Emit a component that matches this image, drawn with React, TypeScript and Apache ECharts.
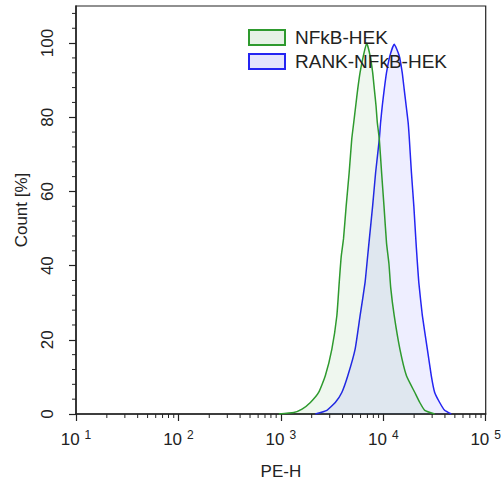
import React, { useEffect, useRef } from "react";
import * as echarts from "echarts";

// PE-H (log scale) values and Count [%] for each histogram
const nfkbX = [956, 1337, 1610, 1942, 2338, 2716, 3148, 3521, 3715, 3885, 4089, 4343, 4645, 4922, 5148, 5383, 5629, 5938, 6395, 6885, 7429, 7873, 8177, 8494, 8744, 9146, 9627, 10158, 10764, 11357, 11824, 12788, 14528, 16838, 20320, 22720, 25400, 31760];
const nfkbY = [0, 0.4, 1.3, 3.1, 5.8, 10.3, 17.5, 26.5, 35.5, 42.5, 47.2, 56.1, 65.1, 74.1, 78.6, 83.1, 87.6, 92.1, 96.6, 100, 96.6, 92.1, 87.6, 83.1, 78.6, 74.1, 65.1, 56.1, 46, 40.5, 34, 26.5, 17.5, 10.3, 5.8, 3.1, 1.0, 0];

const rankX = [2172, 2815, 3398, 3937, 4502, 5311, 5938, 6642, 6994, 7314, 7873, 8418, 9146, 9415, 9779, 10226, 10764, 11614, 12788, 14303, 15294, 15994, 16725, 17487, 17883, 18826, 19870, 20778, 21390, 22218, 24075, 26921, 29437, 31760, 35521, 39719, 46035];
const rankY = [0, 1.0, 3.1, 5.8, 10.3, 17.5, 26.5, 35.5, 41.8, 47.2, 56.1, 65.1, 74.1, 78.6, 83.1, 87.6, 92.1, 96.6, 99.7, 96.6, 92.1, 87.6, 83.1, 78.6, 75, 65.1, 56.1, 47.2, 41.8, 35.5, 26.5, 17.5, 10.3, 5.8, 3.1, 1.0, 0];

const seriesNames = ["NFkB-HEK", "RANK-NFkB-HEK"];
const xTickExponents = [1, 2, 3, 4, 5];
const yTicks = [0, 20, 40, 60, 80, 100];

const FONT = "Arial, 'Liberation Sans', sans-serif";

export default function App() {
  const ref = useRef<HTMLDivElement>(null);
  useEffect(() => {
    if (!ref.current) return;
    const chart = echarts.init(ref.current, null, { renderer: "svg" });

    const xMinor: number[][] = [];
    for (let e = 1; e < 5; e++) {
      for (let m = 2; m <= 9; m++) xMinor.push([m * Math.pow(10, e), 0]);
    }
    const yMinor: number[][] = [];
    for (let v = 4; v < 110; v += 4) {
      if (v % 20 !== 0) yMinor.push([10, v]);
    }

    const green = "#2e9a2e";
    const blue = "#2424f2";
    const greenFill = "rgba(0,128,0,0.09)";
    const blueFill = "rgba(40,40,255,0.11)";

    chart.setOption({
      animation: false,
      textStyle: { fontFamily: FONT },
      grid: {
        left: 76,
        right: 16,
        top: 6,
        bottom: 70,
        show: true,
        borderColor: "#222",
        borderWidth: 1.2,
      },
      legend: {
        orient: "vertical",
        left: 248,
        top: 28,
        padding: 0,
        itemWidth: 36,
        itemHeight: 15,
        itemGap: 5,
        icon: "rect",
        textStyle: { fontSize: 19, color: "#222", fontFamily: FONT, padding: [0, 0, 0, 5] },
        data: [
          { name: seriesNames[0], icon: "rect", itemStyle: { color: "#e6f2e6", borderColor: green, borderWidth: 2 } },
          { name: seriesNames[1], icon: "rect", itemStyle: { color: "#e4e4fc", borderColor: blue, borderWidth: 2 } },
        ],
      },
      xAxis: {
        type: "log",
        logBase: 10,
        min: 10,
        max: 100000,
        name: "PE-H",
        nameLocation: "middle",
        nameGap: 49,
        nameTextStyle: { fontSize: 17, color: "#222", fontFamily: FONT },
        axisLine: { lineStyle: { color: "#222", width: 1.5 } },
        axisTick: { length: 7, lineStyle: { color: "#222", width: 1.2 } },
        splitLine: { show: false },
        axisLabel: {
          margin: 15,
          color: "#222",
          formatter: (v: number) => {
            const e = Math.round(Math.log10(v));
            return xTickExponents.includes(e) ? `{b|10}{s|${e}}` : "";
          },
          rich: {
            b: { fontSize: 17, lineHeight: 20, color: "#222", fontFamily: FONT },
            s: { fontSize: 12, lineHeight: 20, verticalAlign: "top", padding: [0, 0, 0, 5], color: "#222", fontFamily: FONT },
          },
        },
      },
      yAxis: {
        type: "value",
        min: 0,
        max: 110,
        interval: 20,
        name: "Count [%]",
        nameLocation: "middle",
        nameGap: 46,
        nameTextStyle: { fontSize: 17, color: "#222", fontFamily: FONT },
        axisLine: { show: true, lineStyle: { color: "#222", width: 1.5 } },
        axisTick: { show: true, length: 7, lineStyle: { color: "#222", width: 1.2 } },
        splitLine: { show: false },
        axisLabel: {
          rotate: 90,
          margin: 20,
          fontSize: 17,
          color: "#222",
          showMaxLabel: false,
          formatter: (v: number) => (yTicks.includes(v) ? String(v) : ""),
        },
      },
      series: [
        {
          name: seriesNames[1],
          type: "line",
          data: rankX.map((x, i) => [x, rankY[i]]),
          showSymbol: false,
          symbol: "none",
          smooth: 0.15,
          lineStyle: { color: blue, width: 1.5 },
          itemStyle: { color: blue },
          areaStyle: { color: blueFill },
          z: 2,
        },
        {
          name: seriesNames[0],
          type: "line",
          data: nfkbX.map((x, i) => [x, nfkbY[i]]),
          showSymbol: false,
          symbol: "none",
          smooth: 0.15,
          lineStyle: { color: green, width: 1.5 },
          itemStyle: { color: green },
          areaStyle: { color: greenFill },
          z: 3,
        },
        {
          type: "custom",
          silent: true,
          clip: false,
          data: xMinor,
          renderItem: (_p: any, api: any) => {
            const c = api.coord([api.value(0), 0]);
            return {
              type: "line",
              shape: { x1: c[0], y1: c[1], x2: c[0], y2: c[1] + 4 },
              style: { stroke: "#222", lineWidth: 1 },
            };
          },
          z: 5,
        },
        {
          type: "custom",
          silent: true,
          clip: false,
          data: yMinor,
          renderItem: (_p: any, api: any) => {
            const c = api.coord([10, api.value(1)]);
            return {
              type: "line",
              shape: { x1: c[0], y1: c[1], x2: c[0] - 4, y2: c[1] },
              style: { stroke: "#222", lineWidth: 1 },
            };
          },
          z: 5,
        },
      ],
    });
    return () => chart.dispose();
  }, []);
  return <div ref={ref} style={{ width: 504, height: 485, position: "absolute", left: 0, top: 0 }} />;
}
